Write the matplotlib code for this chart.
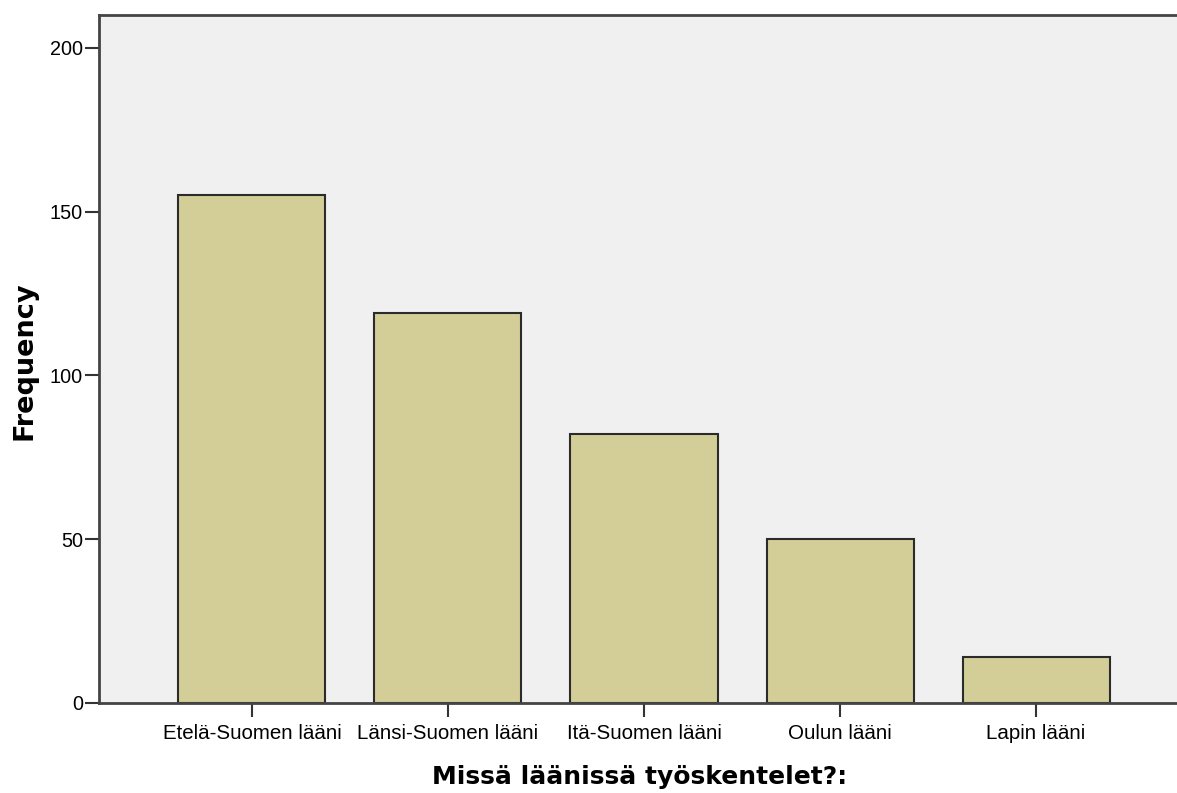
import matplotlib.pyplot as plt

# Data
categories = ['Etelä-Suomen lääni', 'Länsi-Suomen lääni', 'Itä-Suomen lääni',
              'Oulun lääni', 'Lapin lääni']
frequency = [155, 119, 82, 50, 14]
y_ticks = [0, 50, 100, 150, 200]

plt.rcParams['font.family'] = ['Liberation Sans', 'DejaVu Sans']

fig = plt.figure(figsize=(11.77, 7.93), dpi=100)
# axes run past the right edge, as in the original picture
ax = fig.add_axes([99 / 1177, 90 / 793, 1090 / 1177, 688 / 793])
ax.set_facecolor('#f0f0f0')

x = range(len(categories))
ax.bar(x, frequency, width=0.75, color='#d3ce97', edgecolor='#2b2b2b', linewidth=1.5)

ax.set_xlim(-0.78, len(categories) - 1 + 0.78)
ax.set_ylim(0, 210)
ax.set_xticks(list(x))
ax.set_xticklabels(categories, fontsize=14.8)
ax.set_yticks(y_ticks)
ax.set_yticklabels([str(v) for v in y_ticks], fontsize=14.3)
ax.tick_params(axis='y', length=10, width=1.5, color='#333333', pad=1.5)
ax.tick_params(axis='x', length=10, width=1.5, color='#333333', pad=5)

for s in ax.spines.values():
    s.set_linewidth(2)
    s.set_color('#444444')

ax.set_xlabel('Missä läänissä työskentelet?:', fontsize=18, fontweight='bold',
              family='DejaVu Sans')
ax.xaxis.set_label_coords((640 - 99) / 1090, -(777 - 703) / 688)
ax.xaxis.label.set_va('center')
ax.set_ylabel('Frequency', fontsize=19.5, fontweight='bold',
              family='DejaVu Sans')
ax.yaxis.set_label_coords(-(99 - 25) / 1090, (703 - 361) / 688)
ax.yaxis.label.set_va('center')

plt.savefig('out.png', dpi=100)
